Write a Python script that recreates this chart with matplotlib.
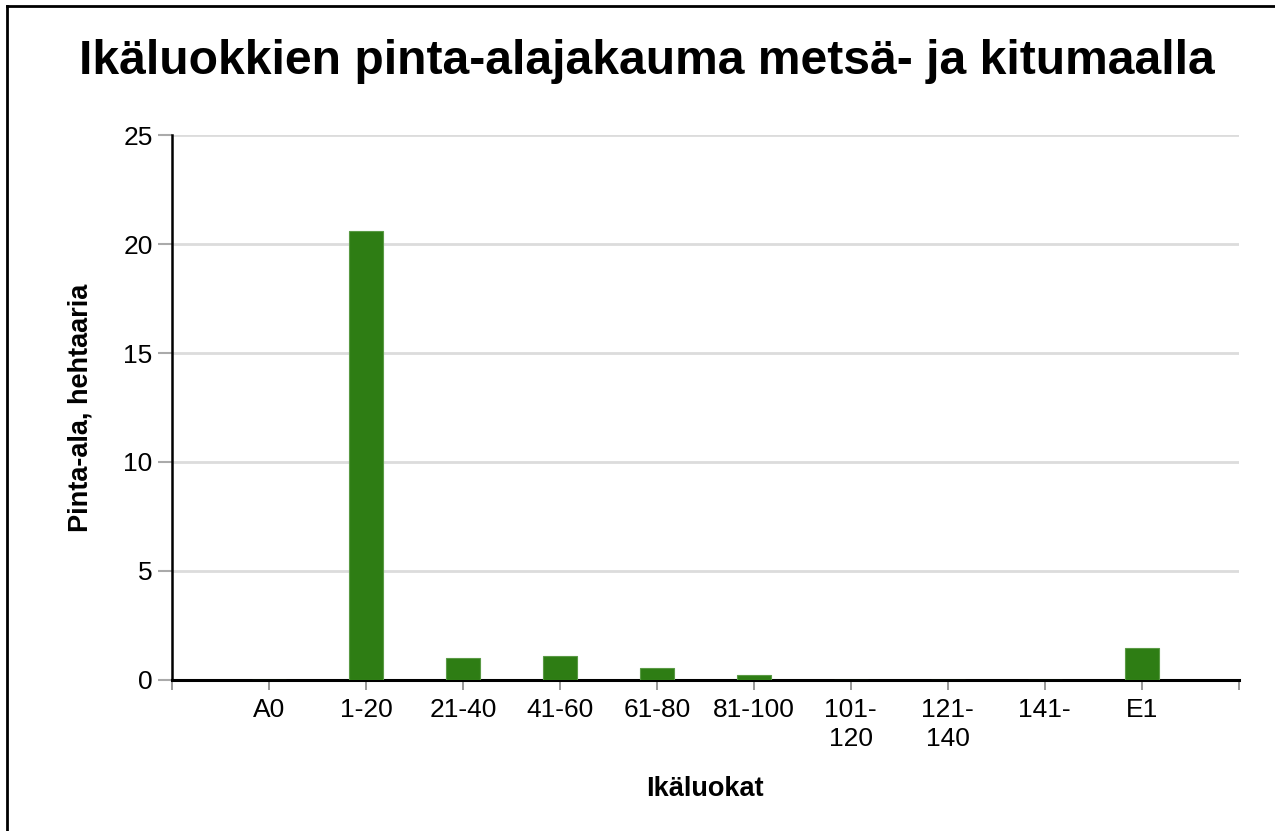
import matplotlib
matplotlib.use("Agg")
import matplotlib.pyplot as plt
from matplotlib.lines import Line2D

categories = ["A0", "1-20", "21-40", "41-60", "61-80", "81-100", "101-\n120", "121-\n140", "141-", "E1"]
values = [0.0, 20.6, 1.0, 1.08, 0.55, 0.22, 0.0, 0.0, 0.0, 1.45]
yticks = [0, 5, 10, 15, 20, 25]

title = "Ikäluokkien pinta-alajakauma metsä- ja kitumaalla"
xlabel = "Ikäluokat"
ylabel = "Pinta-ala, hehtaaria"

plt.rcParams['font.family'] = ['Liberation Sans', 'DejaVu Sans']

W, H = 1275, 831
fig = plt.figure(figsize=(W / 100, H / 100), dpi=100)
ax_l, ax_r, ax_b, ax_t = 172, 1238.7, 679.5, 135.5
ax = fig.add_axes([ax_l / W, 1 - ax_b / H, (ax_r - ax_l) / W, (ax_b - ax_t) / H])

x = list(range(1, len(categories) + 1))
ax.bar(x, values, width=0.35, color="#2e7d14", edgecolor="#5a9a45", linewidth=0.8, zorder=3)

ax.set_xlim(0, len(categories) + 1)
ax.set_ylim(0, 25)
ax.set_yticks(yticks)
ax.set_yticklabels([str(v) for v in yticks], fontsize=19)
ax.set_xticks([0] + x + [len(categories) + 1])
ax.set_xticklabels([""] + categories + [""], fontsize=19, linespacing=1.3)

ax.grid(axis="y", color="#dcdcdc", linewidth=2, zorder=0)
ax.set_axisbelow(True)
for s in ["top", "right"]:
    ax.spines[s].set_visible(False)
ax.spines["left"].set_linewidth(1.8)
ax.spines["bottom"].set_linewidth(2.2)
ax.tick_params(axis="y", length=10, width=1.5, color="#aaaaaa", pad=4)
ax.tick_params(axis="x", length=7, width=1.2, color="#888888", pad=6)

ax.set_xlabel(xlabel, fontsize=19.5, fontweight="bold", va="center")
ax.set_ylabel(ylabel, fontsize=19.5, fontweight="bold", va="center")
ax.xaxis.set_label_coords(0.5, (ax_b - 789) / (ax_b - ax_t))
ax.yaxis.set_label_coords((81 - ax_l) / (ax_r - ax_l), 0.5)

fig.text(647 / W, 1 - 62 / H, title, fontsize=34.6, fontweight="bold", ha="center", va="center")

fig.add_artist(Line2D([7 / W, 7 / W], [0, 1 - 6 / H], transform=fig.transFigure, color="black", linewidth=2))
fig.add_artist(Line2D([7 / W, 1], [1 - 6 / H, 1 - 6 / H], transform=fig.transFigure, color="black", linewidth=2))

fig.savefig("out.png", dpi=100, facecolor="white")
